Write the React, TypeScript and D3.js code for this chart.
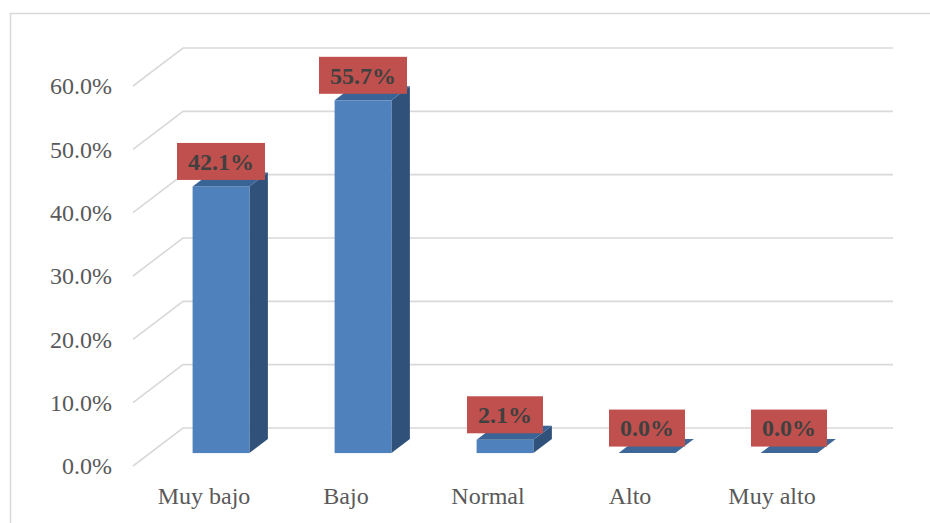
import React from "react";
import * as d3 from "d3";

// Distribution by level (share of respondents)
const categories: string[] = ["Muy bajo", "Bajo", "Normal", "Alto", "Muy alto"];
const values: number[] = [0.421, 0.557, 0.021, 0.0, 0.0];
const yTicks: number[] = [0, 0.1, 0.2, 0.3, 0.4, 0.5, 0.6];

const W = 930;
const H = 523;

// 3D box geometry: floor depth offset, bar placement within that depth
const DEPTH_X = 50;
const DEPTH_Y = 38;
const BAR_FRONT = 0.34;
const BAR_DEPTH = 0.37;

const FONT = "'Liberation Serif', 'Times New Roman', serif";
const LABEL_SIZE = 24;
const pct = d3.format(".1%");

function measure(text: string, font: string): number {
  const c = document.createElement("canvas").getContext("2d");
  if (!c) return text.length * 13;
  c.font = font;
  return c.measureText(text).width;
}

export default function App() {
  const x = d3.scaleBand<string>().domain(categories).range([133, 843]).paddingInner(0.6).paddingOuter(0.3);
  const y = d3.scaleLinear().domain([0, 0.6]).range([466, 86]);

  const bw = x.bandwidth();
  const dx = BAR_DEPTH * DEPTH_X;
  const dy = BAR_DEPTH * DEPTH_Y;

  return (
    <svg width={W} height={H} style={{ position: "absolute", left: 0, top: 0, background: "#fff" }}>
      {/* chart frame */}
      <path d={`M10.5,${H} V13.5 H${W}`} fill="none" stroke="#D9D9D9" strokeWidth={1.5} />

      {/* gridlines: floor diagonal plus back wall */}
      {yTicks.map((t) => {
        const yf = y(t);
        const yb = yf - DEPTH_Y;
        return (
          <path
            key={`g${t}`}
            d={`M133,${yf} L183,${yb} H893`}
            fill="none"
            stroke="#D9D9D9"
            strokeWidth={1.6}
          />
        );
      })}

      {/* y axis labels */}
      {yTicks.map((t) => (
        <text
          key={`t${t}`}
          x={112}
          y={y(t)}
          dy="0.35em"
          textAnchor="end"
          fontFamily={FONT}
          fontSize={24}
          fill="#595959"
        >
          {pct(t)}
        </text>
      ))}

      {/* bars */}
      {categories.map((c, i) => {
        const v = values[i];
        const x0 = (x(c) as number) + BAR_FRONT * DEPTH_X;
        const x1 = x0 + bw;
        const yb = y(0) - BAR_FRONT * DEPTH_Y;
        const yt = y(v) - BAR_FRONT * DEPTH_Y;
        const top = `M${x0},${yt} L${x0 + dx},${yt - dy} L${x1 + dx},${yt - dy} L${x1},${yt} Z`;
        const side = `M${x1},${yt} L${x1 + dx},${yt - dy} L${x1 + dx},${yb - dy} L${x1},${yb} Z`;
        return (
          <g key={c}>
            {v > 0 && <path d={side} fill="#30527A" />}
            {v > 0 && <rect x={x0} y={yt} width={bw} height={yb - yt} fill="#4F81BD" />}
            <path d={top} fill={v > 0 ? "#3B6496" : "#3E6798"} />
          </g>
        );
      })}

      {/* value labels */}
      {categories.map((c, i) => {
        const v = values[i];
        const label = pct(v);
        const tw = measure(label, `bold ${LABEL_SIZE}px ${FONT}`);
        const boxW = tw + 22;
        const boxH = 37;
        const cx = (x(c) as number) + BAR_FRONT * DEPTH_X + bw / 2;
        const cy = y(v) - BAR_FRONT * DEPTH_Y - 25;
        return (
          <g key={`l${c}`}>
            <rect x={cx - boxW / 2} y={cy - boxH / 2} width={boxW} height={boxH} fill="#C0504D" />
            <text
              x={cx}
              y={cy}
              dy="0.35em"
              textAnchor="middle"
              fontFamily={FONT}
              fontWeight="bold"
              fontSize={LABEL_SIZE}
              fill="#404040"
            >
              {label}
            </text>
          </g>
        );
      })}

      {/* category labels, centred on the front edge of each band */}
      {categories.map((c) => (
        <text
          key={`c${c}`}
          x={(x(c) as number) + bw / 2}
          y={504}
          textAnchor="middle"
          fontFamily={FONT}
          fontSize={24}
          fill="#595959"
        >
          {c}
        </text>
      ))}
    </svg>
  );
}
